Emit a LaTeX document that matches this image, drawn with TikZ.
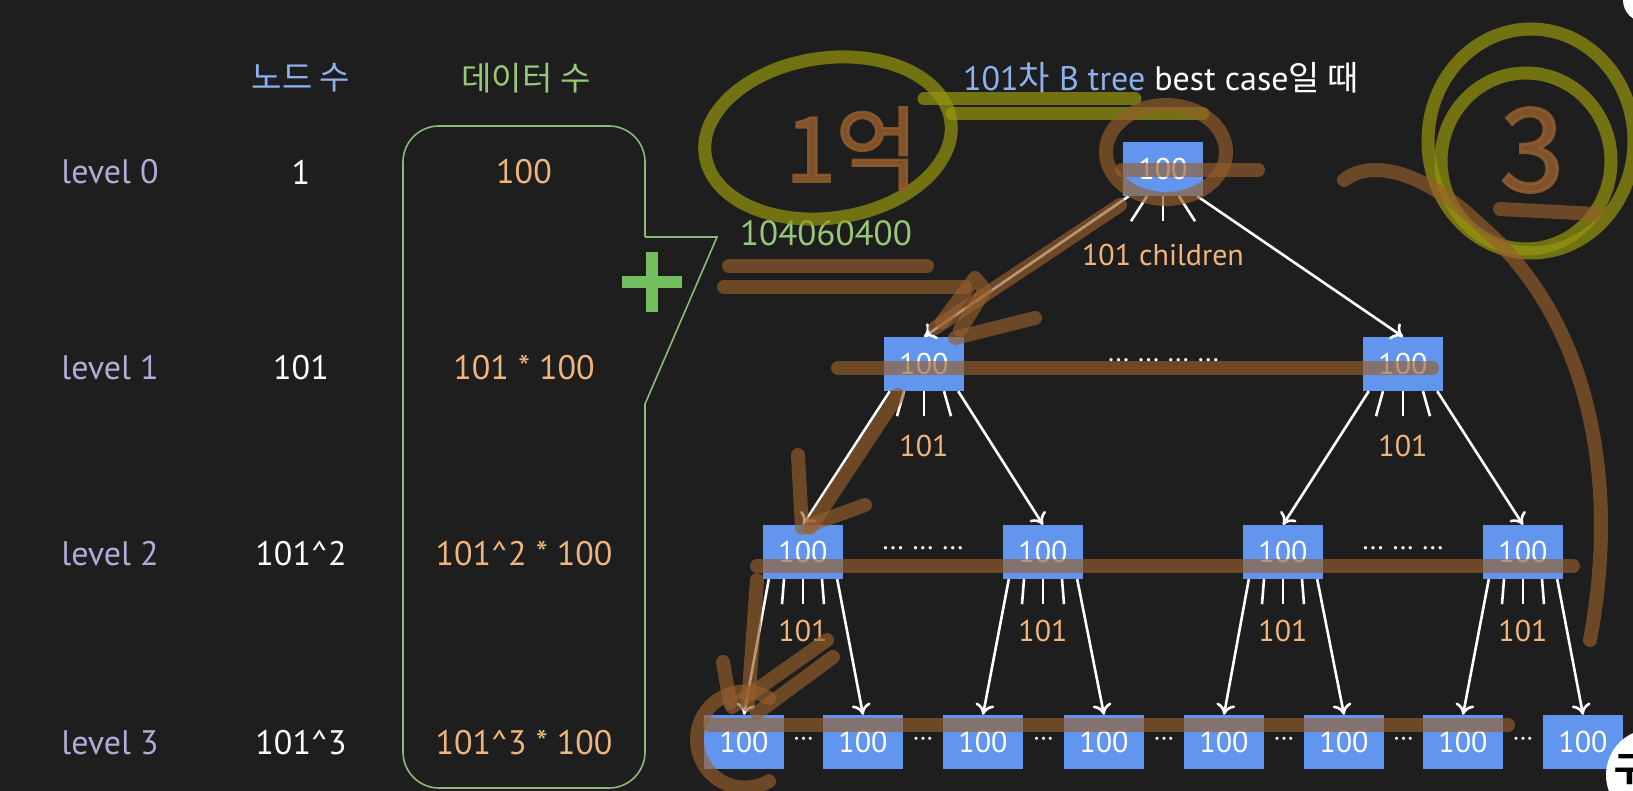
\documentclass[tikz,border=0pt]{standalone}
\usepackage{fontspec}
\setmainfont{PT Sans}
\newfontfamily\kofont{Noto Sans CJK KR}
\newfontfamily\penfont[FakeBold=2.5]{Noto Sans CJK KR}
\usetikzlibrary{arrows.meta}

\definecolor{bgdark}{RGB}{30,30,30}
\definecolor{lvlgray}{RGB}{178,170,215}
\definecolor{hdrblue}{RGB}{140,178,240}
\definecolor{hdrgreen}{RGB}{150,200,120}
\definecolor{valorange}{RGB}{240,180,125}
\definecolor{nodeblue}{RGB}{98,150,238}
\definecolor{bubblegreen}{RGB}{140,185,120}
\definecolor{plusgreen}{RGB}{115,190,95}
\definecolor{penyellow}{RGB}{150,150,15}
\definecolor{penbrown}{RGB}{150,95,45}

\begin{document}
\begin{tikzpicture}[
        x=1pt, y=-1pt,
        tnode/.style={fill=nodeblue, text=white, minimum width=80pt, minimum height=54pt, inner sep=0pt, font=\fontsize{30}{34}\selectfont},
        lvl/.style={text=lvlgray, font=\fontsize{34}{40}\selectfont},
        cnt/.style={text=white, font=\fontsize{34}{40}\selectfont},
        val/.style={text=valorange, font=\fontsize{34}{40}\selectfont},
        hdr/.style={font=\kofont\fontsize{33}{38}\selectfont},
        kid/.style={text=valorange, font=\fontsize{30}{34}\selectfont},
        dots/.style={text=white, font=\fontsize{28}{32}\selectfont, inner sep=0pt},
        arr/.style={draw=white, line width=2.6pt, -{Computer Modern Rightarrow[length=11pt, width=19pt]}},
        fan/.style={draw=white, line width=2.6pt},
        bubble/.style={draw=bubblegreen, line width=1.6pt},
        peny/.style={draw=penyellow, line width=13pt, line cap=round, line join=round, opacity=0.7},
        penb/.style={draw=penbrown, line width=14pt, line cap=round, line join=round, opacity=0.65}
    ]
    \useasboundingbox (0,0) rectangle (1633,791);
    \clip (0,0) rectangle (1633,791);
    \fill[bgdark] (0,0) rectangle (1633,791);

    % Column headers
    \node[hdr, text=hdrblue] (hnodes) at (301,78) {노드 수};
    \node[hdr, text=hdrgreen] (hdata) at (526,78) {데이터 수};

    % Rows per level
    \foreach \y/\l/\n/\v in {172/0/1/100,
                            368/1/101/101 * 100,
                            554/2/101\textasciicircum 2/101\textasciicircum 2 * 100,
                            743/3/101\textasciicircum 3/101\textasciicircum 3 * 100} {
        \node[lvl] (lv\l) at (110,\y) {level \l};
        \node[cnt] (nc\l) at (301,\y) {\n};
        \node[val] (dv\l) at (524,\y) {\v};
    }

    % Sum bubble
    \draw[bubble, rounded corners=36pt] (645,237) -- (645,126) -- (403,126) -- (403,788) -- (645,788) -- (645,404);
    \draw[bubble] (645,237) -- (717,237) -- (645,404);
    \draw[plusgreen, line width=12pt] (622,282) -- (682,282) (652,252) -- (652,312);
    \node[text=hdrgreen, font=\fontsize{35}{40}\selectfont] (total) at (826,233) {104060400};

    % Title
    \node[font=\fontsize{34}{40}\selectfont] (title) at (1161,78)
        {\textcolor{hdrblue}{101{\kofont 차} B tree} \textcolor{white}{best case{\kofont 일 때}}};

    % Tree nodes
    \node[tnode] (r) at (1163,169) {100};
    \node[tnode] (a1) at (924,364) {100};
    \node[tnode] (a2) at (1403,364) {100};
    \foreach \i/\x in {1/803, 2/1043, 3/1283, 4/1523}
        \node[tnode] (b\i) at (\x,552) {100};
    \foreach \i/\x in {1/744, 2/863, 3/983, 4/1104, 5/1224, 6/1344, 7/1463, 8/1583}
        \node[tnode] (c\i) at (\x,742) {100};

    % Edges
    \foreach \p/\c/\d in {r/a1/a2, a1/b1/b2, a2/b3/b4, b1/c1/c2, b2/c3/c4, b3/c5/c6, b4/c7/c8} {
        \draw[arr] ([xshift=6pt]\p.south west) -- (\c.north);
        \draw[arr] ([xshift=-6pt]\p.south east) -- (\d.north);
    }
    \foreach \p/\s/\e in {r/16/32, a1/20/27, a2/20/27, b1/19/21, b2/19/21, b3/19/21, b4/19/21} {
        \draw[fan] ([xshift=-\s]\p.south) -- ++({\s-\e},25);
        \draw[fan] (\p.south) -- ++(0,25);
        \draw[fan] ([xshift=\s]\p.south) -- ++({\e-\s},25);
    }

    % Child counts
    \node[kid] (rkids) at (1163,255) {101 children};
    \foreach \p in {a1, a2}
        \node[kid] (k\p) at ([yshift=-55pt]\p.south) {101};
    \foreach \p in {b1, b2, b3, b4}
        \node[kid] (k\p) at ([yshift=-52pt]\p.south) {101};

    % Dots
    \path (a1) -- node[dots] (da) {··· ··· ··· ···} (a2);
    \path (b1) -- node[dots] (db1) {··· ··· ···} (b2);
    \path (b3) -- node[dots] (db2) {··· ··· ···} (b4);
    \foreach \i/\j in {1/2, 2/3, 3/4, 4/5, 5/6, 6/7, 7/8}
        \path (c\i) -- node[dots, font=\fontsize{26}{30}\selectfont] (dc\i) {···} (c\j);

    % Pen marks
    \draw[peny, rotate around={8:(828,138)}] (828,138) ellipse [x radius=124, y radius=80];
    \draw[peny] (924,99) -- (1135,99);
    \draw[peny] (952,114) -- (1203,114);
    \draw[peny] (1531,141) ellipse [x radius=103, y radius=112];
    \draw[peny] (1526,161) ellipse [x radius=85, y radius=88];
    \node[text=penbrown, opacity=0.8, font=\penfont\fontsize{90}{96}\selectfont] (eok) at (852,148) {1억};
    \node[text=penbrown, opacity=0.8, font=\penfont\fontsize{115}{120}\selectfont] (three) at (1532,150) {3};
    \draw[penb] (1500,209) -- (1596,214);
    \draw[penb] (729,266) -- (927,266);
    \draw[penb] (724,287) -- (965,287);
    \draw[penb] (1166,152) ellipse [x radius=60, y radius=47];
    \draw[penb] (1122,170) -- (1258,170);
    \draw[penb] (1120,205) -- (935,328);
    \draw[penb] (942,322) -- (975,278) -- (985,290) -- (960,330);
    \draw[penb] (955,338) -- (1035,318);
    \draw[penb] (898,395) -- (810,528);
    \draw[penb] (798,455) -- (802,528) -- (865,505);
    \draw[penb] (757,580) -- (748,705);
    \draw[penb] (723,662) -- (730,703);
    \draw[penb] (827,640) -- (732,707);
    \draw[penb] (833,657) -- (757,713);
    \draw[penb] (769,698) arc[start angle=-60, end angle=-300, radius=48];
    \draw[penb] (838,368) -- (1432,368);
    \draw[penb] (757,566) -- (1573,566);
    \draw[penb] (710,725) -- (1508,725);
    \draw[penb] (1344,180) .. controls (1372,158) and (1425,172) .. (1480,225)
        .. controls (1590,320) and (1620,480) .. (1590,640);

    % Corner marks
    \fill[white] (1645,0) circle (22);
    \fill[white] (1652,775) circle (46);
    \node[text=black, font=\kofont\bfseries\fontsize{34}{38}\selectfont] (logo) at (1630,770) {구};
\end{tikzpicture}
\end{document}
